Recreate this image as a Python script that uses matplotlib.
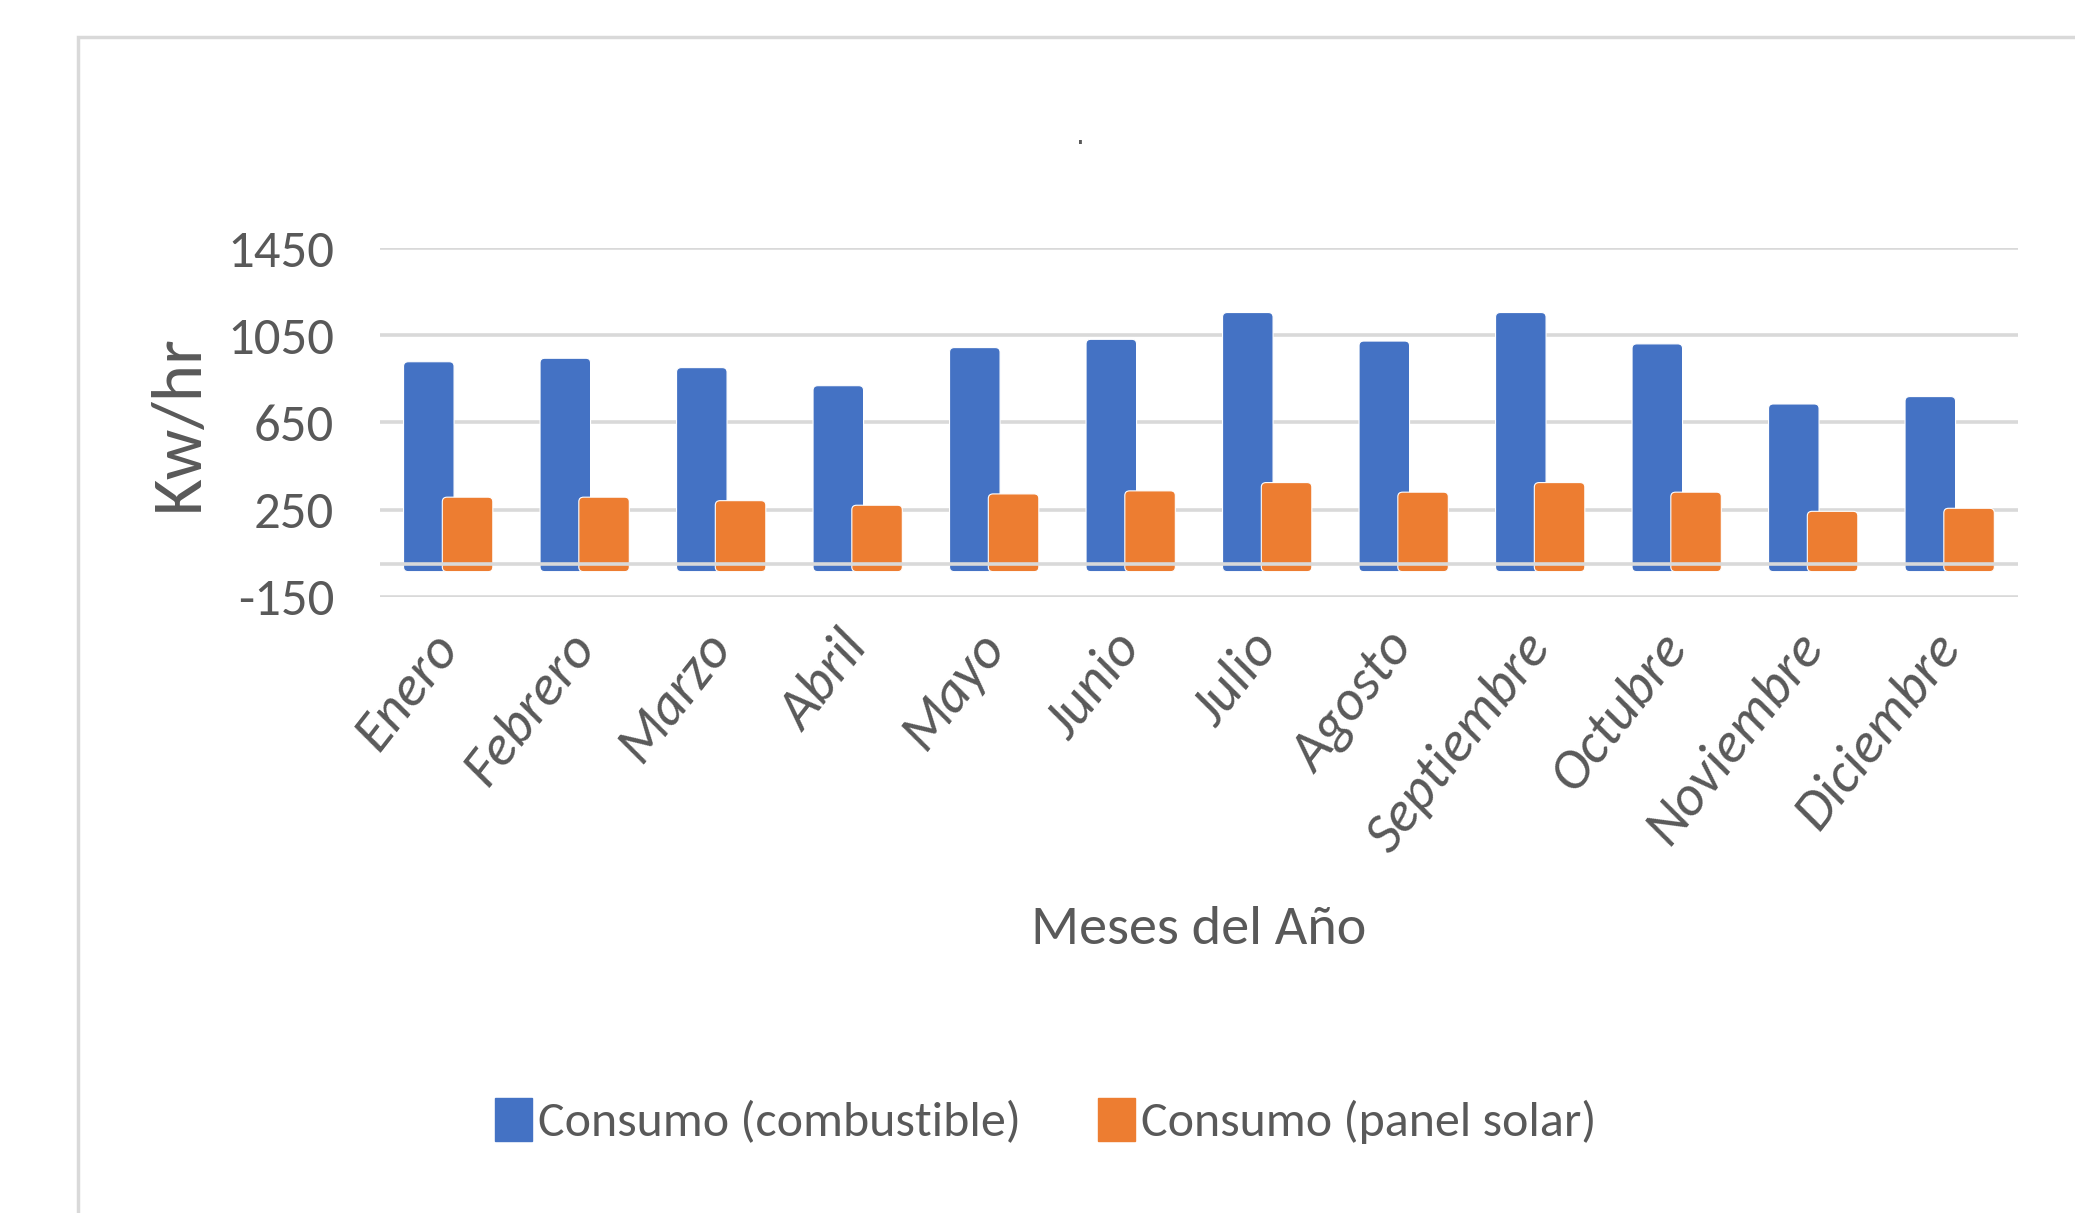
import numpy as np
import matplotlib
matplotlib.use("Agg")
import matplotlib.pyplot as plt
from matplotlib.patches import FancyBboxPatch, Rectangle

# ── data ──
meses = ["Enero", "Febrero", "Marzo", "Abril", "Mayo", "Junio", "Julio",
         "Agosto", "Septiembre", "Octubre", "Noviembre", "Diciembre"]
combustible = [929, 945, 902, 819, 994, 1032, 1155, 1024, 1155, 1011, 735, 769]
panel_solar = [307, 307, 291, 270, 322, 336, 374, 330, 374, 330, 242, 256]
y_ticks = [-150, 250, 650, 1050, 1450]

BLUE = "#4472C4"
ORANGE = "#ED7D31"
GRID = "#D9D9D9"
TXT = "#595959"
FONT = ["Carlito", "PT Sans Narrow", "DejaVu Sans"]
BASE = -35          # Excel draws the rounded bar foot slightly below zero
W = 0.37
OFF = 0.142

fig = plt.figure(figsize=(20.75, 12.13), dpi=100)
ax = fig.add_axes([0.1831, 0.5081, 0.7894, 0.2872])

x = np.arange(len(meses))


def rounded_bars(ax, xs, vals, color, z):
    bars = ax.bar(xs, np.array(vals) - BASE, W, bottom=BASE, color=color)
    for r in bars.patches:
        bx, by = r.get_x(), r.get_y()
        bw, bh = r.get_width(), r.get_height()
        r.remove()
        p = FancyBboxPatch((bx, by), bw, bh,
                           boxstyle="round,pad=0,rounding_size=0.035",
                           mutation_aspect=600, facecolor=color,
                           edgecolor="white", lw=0.8, zorder=z)
        ax.add_patch(p)


rounded_bars(ax, x - OFF, combustible, BLUE, 2)
rounded_bars(ax, x + OFF, panel_solar, ORANGE, 2.1)

ax.axhline(0, color=GRID, lw=2.6, zorder=3)

ax.set_xlim(-0.5, len(meses) - 0.5)
ax.set_ylim(y_ticks[0], y_ticks[-1])
ax.set_yticks(y_ticks)
ax.set_yticklabels([str(v) for v in y_ticks], family=FONT, fontsize=38,
                   color=TXT)
ax.set_xticks(x)
ax.set_xticklabels(meses, rotation=52, ha="right", va="center",
                   rotation_mode="anchor", family=FONT,
                   fontstyle="italic", fontsize=41, color=TXT)
ax.tick_params(axis="y", length=0, pad=33)
ax.tick_params(axis="x", length=0, pad=30)
ax.grid(axis="y", color=GRID, lw=2.6, zorder=0)
ax.set_axisbelow(True)
for s in ax.spines.values():
    s.set_visible(False)

ax.set_ylabel("Kw/hr", family=FONT, fontsize=51, color=TXT)
ax.yaxis.set_label_coords(-0.104, 0.5)

fig.text(0.5778, 1 - 930 / 1213, "Meses del Año", family=FONT,
         fontsize=40.5, color=TXT, ha="center", va="center")
fig.text(1080 / 2075, 1 - 136 / 1213, ".", fontsize=20, color=TXT,
         ha="center", va="center")

# chart-area frame
fig.add_artist(Rectangle((78 / 2075, -0.1), 1.2, 1.0695,
                         transform=fig.transFigure, fill=False,
                         edgecolor=GRID, lw=2.5))

handles = [Rectangle((0, 0), 1, 1, color=BLUE),
           Rectangle((0, 0), 1, 1, color=ORANGE)]
fig.legend(handles, ["Consumo (combustible)", "Consumo (panel solar)"],
           loc="center", bbox_to_anchor=(1045.5 / 2075, 1 - 1121 / 1213),
           ncol=2, frameon=False, prop={"family": FONT, "size": 36},
           labelcolor=TXT, handlelength=0.74, handleheight=0.95,
           handletextpad=0.12, columnspacing=1.55)

fig.savefig("out.png", dpi=100, facecolor="white")
